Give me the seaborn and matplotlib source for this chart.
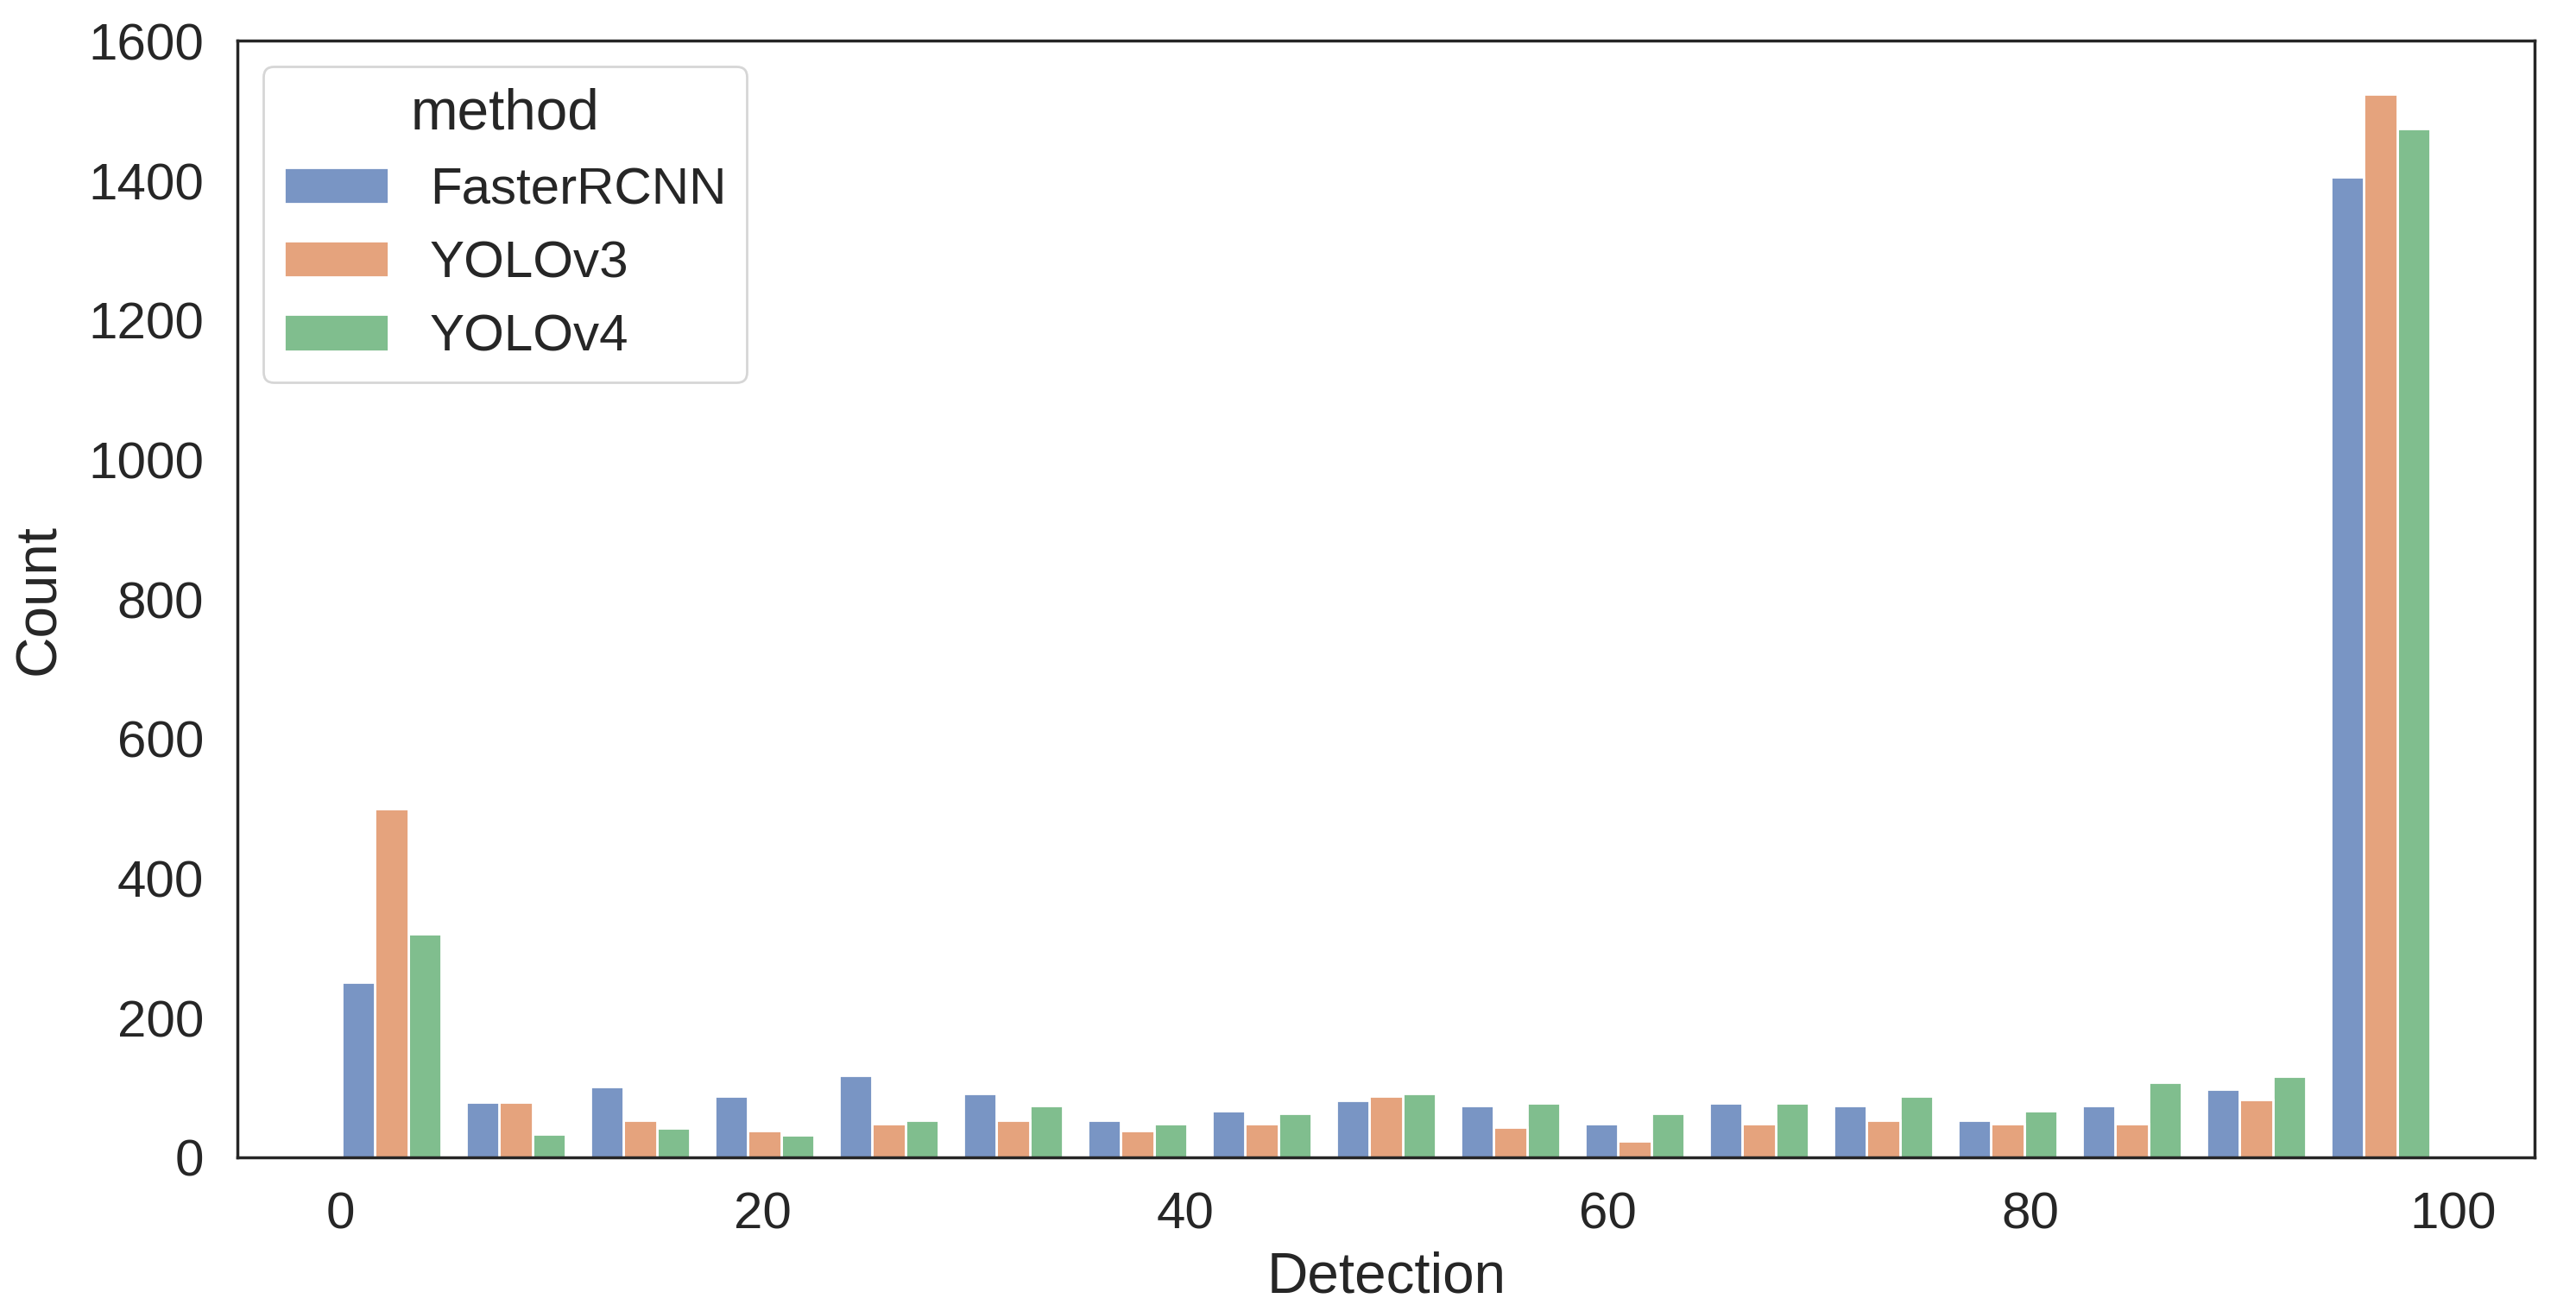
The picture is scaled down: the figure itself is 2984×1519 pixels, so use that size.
import numpy as np
import pandas as pd
import matplotlib
matplotlib.use('Agg')
import matplotlib.pyplot as plt
import seaborn as sns

# counts per detection bin (17 bins)
methods = ['FasterRCNN', 'YOLOv3', 'YOLOv4']
faster_rcnn = [252, 79, 102, 88, 118, 92, 54, 67, 82, 74, 49, 78, 74, 54, 74, 98, 1406]
yolov3 = [500, 79, 54, 39, 49, 54, 39, 49, 88, 44, 24, 49, 54, 49, 49, 83, 1525]
yolov4 = [321, 34, 43, 33, 54, 74, 49, 63, 92, 78, 63, 78, 88, 67, 108, 117, 1475]
bin_range = (-0.5, 99.5)
n_bins = len(faster_rcnn)

# build a long table with one row per bin and method, weighted by count
edges = np.linspace(bin_range[0], bin_range[1], n_bins + 1)
centers = (edges[:-1] + edges[1:]) / 2
frames = []
for name, counts in zip(methods, [faster_rcnn, yolov3, yolov4]):
    frames.append(pd.DataFrame({'Detection': centers, 'method': name, 'count': counts}))
df = pd.concat(frames, ignore_index=True)

sns.set_theme(style='white', font_scale=1.97)
plt.rcParams['font.family'] = ['Liberation Sans', 'DejaVu Sans']

fig = plt.figure(figsize=(14.92, 7.595), dpi=200)
ax = fig.add_axes([0.0922, 0.117, 0.8918, 0.852])
sns.histplot(data=df, x='Detection', weights='count', hue='method',
             hue_order=methods, bins=n_bins, binrange=bin_range,
             multiple='dodge', shrink=0.8, ax=ax)
ax.tick_params(axis='both', pad=8)
ax.set_xlabel('Detection', labelpad=5)
ax.set_ylabel('Count', labelpad=9)
sns.move_legend(ax, 'upper left')

fig.savefig('out.png', dpi=200)
